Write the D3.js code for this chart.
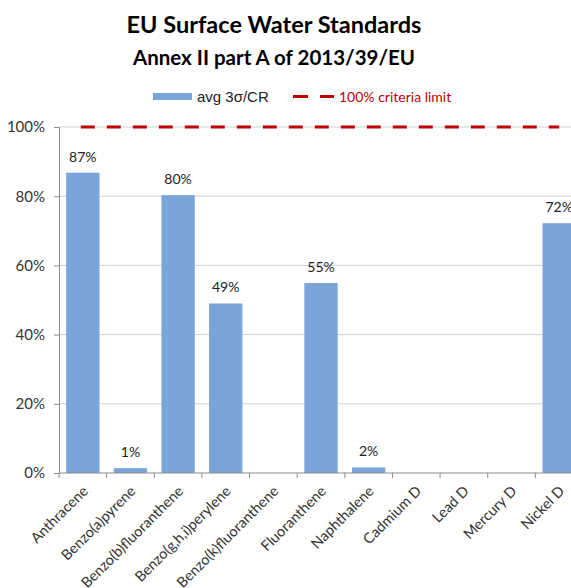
<!DOCTYPE html>
<html>
<head>
<meta charset="utf-8">
<script src="https://cdn.jsdelivr.net/npm/d3@7"></script>
<style>
  body { margin: 0; background: #fff; }
  svg { display: block; }
</style>
</head>
<body>
<div id="chart"></div>
<script>
// chart values
const categories = ["Anthracene", "Benzo(a)pyrene", "Benzo(b)fluoranthene", "Benzo(g,h,i)perylene",
    "Benzo(k)fluoranthene", "Fluoranthene", "Naphthalene", "Cadmium D", "Lead D", "Mercury D", "Nickel D"];
const avgValues = [0.868, 0.014, 0.803, 0.490, null, 0.549, 0.016, null, null, null, 0.722];
const limitValue = 1.0;
const yTicks = [0, 0.2, 0.4, 0.6, 0.8, 1.0];
const titleLines = ["EU Surface Water Standards", "Annex II part A of 2013/39/EU"];
const legendLabels = ["avg 3σ/CR", "100% criteria limit"];

const W = 571, H = 588;
const m = { top: 127, left: 59, bottom: 115, right: -12 };
const calibri = "Lato, 'Open Sans', sans-serif";
const arial = "'Liberation Sans', Arial, sans-serif";

const svg = d3.select("#chart").append("svg")
    .attr("width", W)
    .attr("height", H);

const x = d3.scaleBand()
    .domain(categories)
    .range([m.left, W - m.right])
    .paddingInner(0.3)
    .paddingOuter(0.15);

const y = d3.scaleLinear()
    .domain([0, 1])
    .range([H - m.bottom, m.top]);

// gridlines
svg.append("g")
    .selectAll("line")
    .data(yTicks.filter(d => d > 0))
    .join("line")
    .attr("x1", m.left)
    .attr("x2", W - m.right)
    .attr("y1", d => y(d))
    .attr("y2", d => y(d))
    .style("stroke", "#d0d0d0")
    .style("stroke-width", 1);

// bars
const idx = categories.map((c, i) => ({ c: c, v: avgValues[i] }));
svg.append("g")
    .selectAll("rect")
    .data(idx.filter(d => d.v != null))
    .join("rect")
    .attr("x", d => x(d.c))
    .attr("width", x.bandwidth())
    .attr("y", d => y(d.v))
    .attr("height", d => y(0) - y(d.v))
    .style("fill", "#7BA4DB");

// data labels
svg.append("g")
    .selectAll("text")
    .data(idx.filter(d => d.v != null))
    .join("text")
    .attr("x", d => x(d.c) + x.bandwidth() / 2)
    .attr("y", d => y(d.v) - 11)
    .attr("text-anchor", "middle")
    .style("font-family", calibri)
    .style("font-size", "14px")
    .style("fill", "#222")
    .text(d => d3.format(".0%")(d.v));

// limit line
const mid = c => x(c) + x.bandwidth() / 2;
svg.append("line")
    .attr("x1", mid(categories[0]) - 2)
    .attr("x2", mid(categories[categories.length - 1]))
    .attr("y1", y(limitValue))
    .attr("y2", y(limitValue))
    .style("stroke", "#C00000")
    .style("stroke-width", 3)
    .style("stroke-dasharray", "14,12");

// y axis
const yAxis = svg.append("g")
    .attr("transform", "translate(" + m.left + ",0)")
    .call(d3.axisLeft(y).tickValues(yTicks).tickFormat(d3.format(".0%")).tickSize(5).tickSizeOuter(0));
yAxis.select(".domain").style("stroke", "#8c8c8c");
yAxis.selectAll(".tick line").style("stroke", "#8c8c8c");
yAxis.selectAll(".tick text")
    .attr("x", -14)
    .style("font-family", calibri)
    .style("font-size", "15px")
    .style("fill", "#333");

// x axis
const xAxis = svg.append("g")
    .attr("transform", "translate(0," + y(0) + ")");
xAxis.append("line")
    .attr("x1", m.left)
    .attr("x2", W - m.right)
    .style("stroke", "#8c8c8c");
xAxis.selectAll(".xtick")
    .data(categories)
    .join("line")
    .attr("class", "xtick")
    .attr("x1", (d, i) => m.left + i * x.step())
    .attr("x2", (d, i) => m.left + i * x.step())
    .attr("y1", 0)
    .attr("y2", 5)
    .style("stroke", "#8c8c8c");
xAxis.selectAll(".xlabel")
    .data(categories)
    .join("text")
    .attr("class", "xlabel")
    .attr("text-anchor", "end")
    .attr("transform", d => "translate(" + (mid(d) + 6) + ",19) rotate(-45)")
    .style("font-family", calibri)
    .style("font-size", "14.5px")
    .style("fill", "#333")
    .text(d => d);

// titles
svg.append("text")
    .attr("x", 274)
    .attr("y", 33)
    .attr("text-anchor", "middle")
    .style("font-family", calibri)
    .style("font-weight", "bold")
    .style("font-size", "23.5px")
    .style("fill", "#000")
    .text(titleLines[0]);
svg.append("text")
    .attr("x", 274)
    .attr("y", 65)
    .attr("text-anchor", "middle")
    .style("font-family", calibri)
    .style("font-weight", "bold")
    .style("font-size", "20.5px")
    .style("fill", "#000")
    .text(titleLines[1]);

// legend
const lg = svg.append("g");
lg.append("rect")
    .attr("x", 153).attr("y", 93)
    .attr("width", 39).attr("height", 7)
    .style("fill", "#7BA4DB");
lg.append("text")
    .attr("x", 197).attr("y", 102)
    .style("font-family", arial)
    .style("font-size", "15px")
    .style("fill", "#222")
    .text(legendLabels[0]);
lg.append("line")
    .attr("x1", 293).attr("x2", 334)
    .attr("y1", 96.5).attr("y2", 96.5)
    .style("stroke", "#C00000")
    .style("stroke-width", 3)
    .style("stroke-dasharray", "15,12");
lg.append("text")
    .attr("x", 339).attr("y", 102)
    .style("font-family", calibri)
    .style("font-size", "14px")
    .style("fill", "#C00000")
    .text(legendLabels[1]);
</script>
</body>
</html>
